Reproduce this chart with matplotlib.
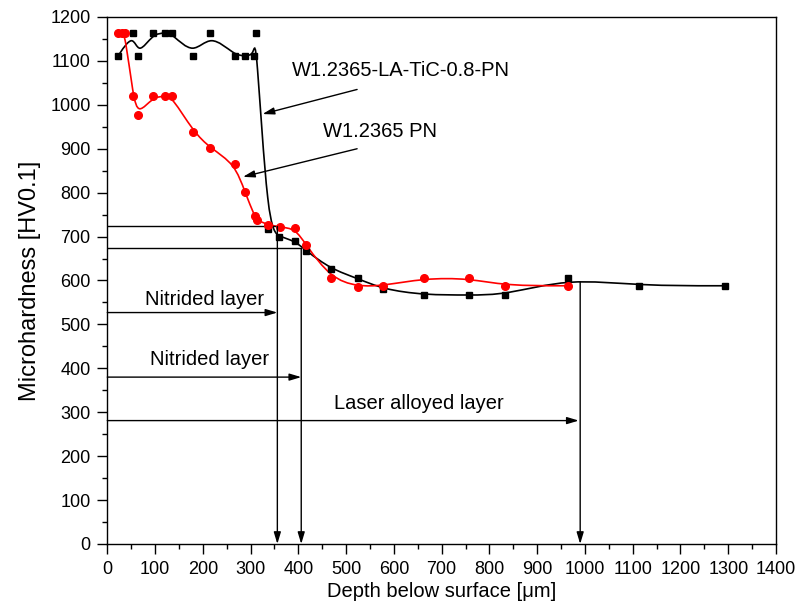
import numpy as np
import matplotlib
matplotlib.use("Agg")
import matplotlib.pyplot as plt
from matplotlib.path import Path
from matplotlib.patches import PathPatch

plt.rcParams['font.family'] = ['Liberation Sans', 'DejaVu Sans']

# W1.2365-LA-TiC-0.8-PN (black squares)
black_x = [23, 54, 65, 96, 121, 135, 180, 216, 267, 288, 307, 311, 336, 360, 393,
           416, 468, 524, 577, 664, 757, 833, 965, 1113, 1293]
black_y = [1112, 1163, 1112, 1163, 1163, 1163, 1112, 1163, 1112, 1112, 1112, 1163, 718,
           700, 690, 668, 626, 605, 580, 567, 567, 567, 605, 588, 588]

# W1.2365 PN (red circles)
red_x = [23, 30, 37, 54, 65, 96, 121, 135, 180, 216, 267, 288, 309, 313, 337, 362,
         393, 416, 468, 524, 577, 664, 757, 833, 965]
red_y = [1163, 1163, 1163, 1019, 977, 1019, 1019, 1019, 939, 901, 866, 801, 746, 737,
         727, 721, 719, 681, 605, 586, 588, 605, 605, 588, 588]

# layer depths marked on the chart
nitrided_lat = 356      # W1.2365-LA-TiC-0.8-PN
nitrided_pn = 406       # W1.2365 PN
laser_layer = 990
level_lat = 723
level_pn = 673


def bspline_path(x, y):
    # uniform cubic B-spline (data as control points) -> bezier segments
    p = np.column_stack([x, y]).astype(float)
    p = np.vstack([p[:1], p[:1], p, p[-1:], p[-1:]])
    verts = [(p[0] + 4 * p[1] + p[2]) / 6]
    codes = [Path.MOVETO]
    for i in range(len(p) - 3):
        p0, p1, p2, p3 = p[i:i + 4]
        verts += [(2 * p1 + p2) / 3, (p1 + 2 * p2) / 3, (p1 + 4 * p2 + p3) / 6]
        codes += [Path.CURVE4] * 3
    return Path(verts, codes)


fig = plt.figure(figsize=(8.02, 6.07), dpi=100)
ax = fig.add_axes([0.1338, 0.1038, 0.8338, 0.8682])

ax.add_patch(PathPatch(bspline_path(black_x, black_y), fc='none', ec='black', lw=1.2))
ax.add_patch(PathPatch(bspline_path(red_x, red_y), fc='none', ec='red', lw=1.2))
ax.plot(black_x, black_y, 's', color='black', ms=4.5, zorder=3)
ax.plot(red_x, red_y, 'o', color='red', ms=5.5, zorder=3)

# depth guide lines
ax.plot([0, nitrided_lat], [level_lat, level_lat], color='black', lw=1)
ax.plot([0, nitrided_pn], [level_pn, level_pn], color='black', lw=1)

arrow = dict(arrowstyle='-|>,head_length=0.5,head_width=0.15', mutation_scale=14,
             color='black', lw=1, shrinkA=0, shrinkB=0)
ax.annotate('', xy=(nitrided_lat, 0), xytext=(nitrided_lat, level_lat), arrowprops=arrow)
ax.annotate('', xy=(nitrided_pn, 0), xytext=(nitrided_pn, level_pn), arrowprops=arrow)
ax.annotate('', xy=(laser_layer, 0), xytext=(laser_layer, 597), arrowprops=arrow)

ax.annotate('', xy=(nitrided_lat, 527), xytext=(0, 527), arrowprops=arrow)
ax.annotate('', xy=(nitrided_pn, 380), xytext=(0, 380), arrowprops=arrow)
ax.annotate('', xy=(laser_layer - 3, 281), xytext=(0, 281), arrowprops=arrow)

ax.text(328, 556, 'Nitrided layer', ha='right', va='center', fontsize=14.5)
ax.text(338, 419, 'Nitrided layer', ha='right', va='center', fontsize=14.5)
ax.text(652, 319, 'Laser alloyed layer', ha='center', va='center', fontsize=14.5)

ax.text(386, 1078, 'W1.2365-LA-TiC-0.8-PN', ha='left', va='center', fontsize=14.5)
ax.annotate('', xy=(325, 979), xytext=(523, 1035), arrowprops=arrow)
ax.text(451, 939, 'W1.2365 PN', ha='left', va='center', fontsize=14.5)
ax.annotate('', xy=(284, 836), xytext=(523, 900), arrowprops=arrow)

ax.set_xlim(0, 1400)
ax.set_ylim(0, 1200)
ax.set_xticks(np.arange(0, 1401, 100))
ax.set_xticks(np.arange(0, 1401, 50), minor=True)
ax.set_yticks(np.arange(0, 1201, 100))
ax.set_yticks(np.arange(0, 1201, 50), minor=True)
ax.tick_params(which='major', direction='out', length=7, width=1, labelsize=13, pad=5)
ax.tick_params(which='minor', direction='out', length=3.5, width=1)
for s in ax.spines.values():
    s.set_linewidth(1)

ax.set_xlabel('Depth below surface [\u03bcm]', fontsize=14.5, labelpad=3)
ax.set_ylabel('Microhardness [HV0.1]', fontsize=17, labelpad=7)

plt.savefig('out.png', dpi=100)
